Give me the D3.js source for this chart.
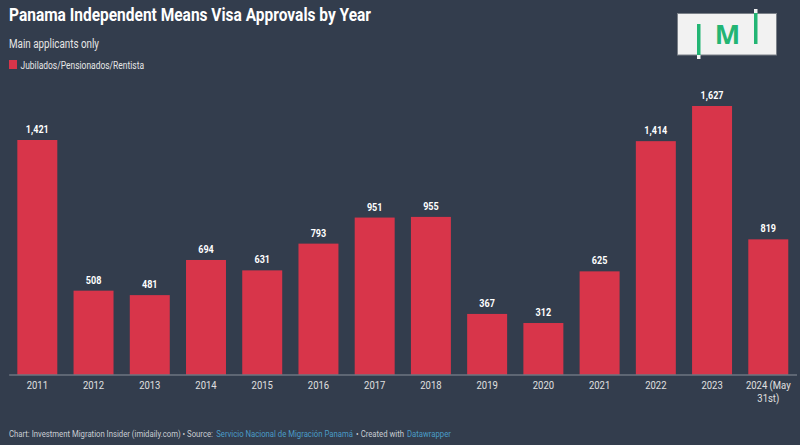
<!DOCTYPE html>
<html><head><meta charset="utf-8">
<script src="https://cdn.jsdelivr.net/npm/d3@7"></script>
<style>
html,body{margin:0;padding:0;background:#333d4d;}
svg{display:block;font-family:Roboto,"Liberation Sans",sans-serif;}
</style></head>
<body>
<svg id="c" width="800" height="445"></svg>
<script>
const categories = ["2011","2012","2013","2014","2015","2016","2017","2018","2019","2020","2021","2022","2023","2024 (May 31st)"];
const values = [1421,508,481,694,631,793,951,955,367,312,625,1414,1627,819];
const seriesName = "Jubilados/Pensionados/Rentista";
const title = "Panama Independent Means Visa Approvals by Year";
const subtitle = "Main applicants only";
const footerParts = [
  {t:"Chart: Investment Migration Insider (imidaily.com) • Source:", link:false},
  {t:"Servicio Nacional de Migración Panamá", link:true},
  {t:"• Created with", link:false},
  {t:"Datawrapper", link:true}
];

const svg = d3.select("#c");
const W = 800, H = 445;
svg.append("rect").attr("width",W).attr("height",H).attr("fill","#333d4d");

function condense(sel, f){
  sel.each(function(){
    const w = this.getComputedTextLength();
    d3.select(this).attr("textLength", w*f).attr("lengthAdjust","spacingAndGlyphs");
  });
}
function fitWidth(sel, w){
  sel.attr("textLength", w).attr("lengthAdjust","spacingAndGlyphs");
}

const barColor = "#d8354a";
const baseY = 374.5;

const x = d3.scaleBand().domain(categories).range([9.2,796.4]).paddingInner(0.289).paddingOuter(0.1445);
const y = d3.scaleLinear().domain([0,1627]).range([baseY,106]);

// title
svg.append("text").attr("x",9).attr("y",21).attr("fill","#ffffff")
  .attr("font-size",19).attr("font-weight","bold")
  .text(title).call(fitWidth,362);
svg.append("text").attr("x",9).attr("y",47.5).attr("fill","#e6e6e6")
  .attr("font-size",12.5).text(subtitle).call(fitWidth,90);
// legend
svg.append("rect").attr("x",9).attr("y",60).attr("width",8).attr("height",9).attr("fill",barColor);
svg.append("text").attr("x",20.5).attr("y",68.5).attr("fill","#e6e6e6")
  .attr("font-size",10).text(seriesName).call(fitWidth,123.5);

// logo
const lg = svg.append("g");
lg.append("rect").attr("x",677.5).attr("y",13.5).attr("width",99).attr("height",41.5)
  .attr("fill","#f2f2f2").attr("stroke","#7a8088").attr("stroke-width",1);
lg.append("rect").attr("x",697).attr("y",24).attr("width",3.5).attr("height",31).attr("fill","#23b574");
lg.append("rect").attr("x",697).attr("y",55).attr("width",3.5).attr("height",4).attr("fill","#f2f2f2");
lg.append("rect").attr("x",754).attr("y",13).attr("width",3.5).attr("height",31).attr("fill","#23b574");
lg.append("rect").attr("x",754).attr("y",9).attr("width",3.5).attr("height",4).attr("fill","#f2f2f2");
lg.append("text").attr("x",727.5).attr("y",44).attr("text-anchor","middle")
  .attr("fill","#23b574").attr("font-size",27).attr("font-weight","bold")
  .attr("font-family","'Open Sans',sans-serif").text("M");

// bars
svg.append("g").selectAll("rect").data(values).join("rect")
  .attr("x",(d,i)=>x(categories[i]))
  .attr("y",d=>y(d))
  .attr("width",x.bandwidth())
  .attr("height",d=>baseY-y(d))
  .attr("fill",barColor);

// value labels
svg.append("g").selectAll("text").data(values).join("text")
  .attr("x",(d,i)=>x(categories[i])+x.bandwidth()/2)
  .attr("y",d=>y(d)-7)
  .attr("text-anchor","middle").attr("fill","#ffffff")
  .attr("font-size",10.5).attr("font-weight","bold")
  .text(d=>d3.format(",")(d)).call(condense,0.86);

// axis
const axis = svg.append("g").attr("transform",`translate(0,${baseY})`)
  .call(d3.axisBottom(x).tickSize(0).tickPadding(0));
axis.select(".domain").attr("stroke","#8a909a").attr("stroke-width",1)
  .attr("d",`M9.2,0.5H797`);
axis.selectAll(".tick text").remove();
axis.selectAll(".tick").each(function(d){
  const g = d3.select(this);
  const t = g.append("text").attr("fill","#e0e0e0").attr("font-size",11)
    .attr("text-anchor","middle").attr("font-family","Roboto,sans-serif");
  if (d.indexOf("(")>0){
    const parts = ["2024 (May","31st)"];
    parts.forEach((p,k)=>t.append("tspan").attr("x",0).attr("y",14.5+k*13).text(p));
    t.selectAll("tspan").call(condense,0.86);
  } else {
    t.attr("y",14.5).text(d).call(condense,0.86);
  }
});

// footer: separate texts, horizontally scaled to fit the reference width
const fg = svg.append("g");
const fGroups = footerParts.map(p => fg.append("g"));
const fItems = footerParts.map((p,i) => fGroups[i].append("text").attr("x",0).attr("y",0)
  .attr("font-size",9.5).attr("fill", p.link ? "#4a9cc6" : "#c8ccd2").text(p.t));
const natural = fItems.map(s => s.node().getComputedTextLength());
const gap = 3;
const total = natural.reduce((a,b)=>a+b,0);
const k = (442 - gap*(fItems.length-1))/total;
let cx = 9;
fGroups.forEach((g,i)=>{
  g.attr("transform",`translate(${cx},437) scale(${k},1)`);
  cx += natural[i]*k + gap;
});
</script>
</body></html>
